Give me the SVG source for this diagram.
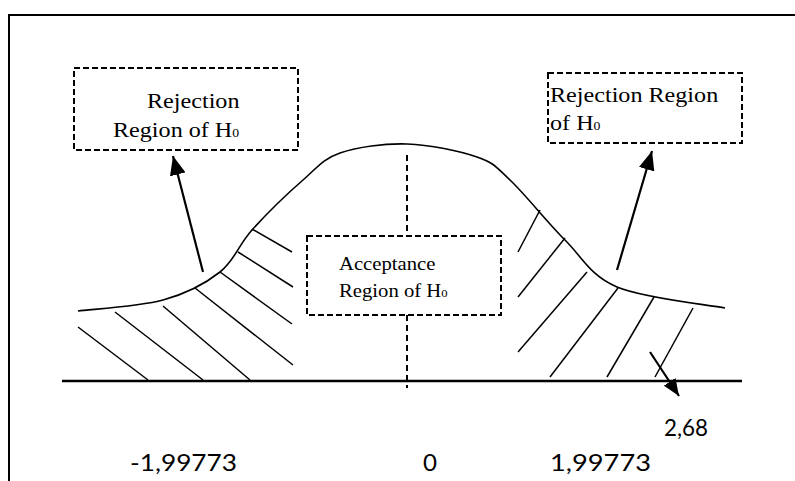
<svg xmlns="http://www.w3.org/2000/svg" width="795" height="481" viewBox="0 0 795 481">
<style>
.frame{fill:none;stroke:#000;stroke-width:2}
.axis{fill:none;stroke:#000;stroke-width:2.5}
.curve{fill:none;stroke:#000;stroke-width:1.6}
.hatch{fill:none;stroke:#000;stroke-width:1.5}
.box{fill:#fff;stroke:#000;stroke-width:2;stroke-dasharray:6,3}
.vdash{fill:none;stroke:#000;stroke-width:2;stroke-dasharray:6,4}
.arrow{fill:none;stroke:#000;stroke-width:2.2}
.serif{font-family:"Liberation Serif","Times New Roman",serif;fill:#000}
.sans{font-family:Lato,"Open Sans",sans-serif;fill:#000}
</style>
<defs>
<marker id="ah" markerUnits="userSpaceOnUse" markerWidth="20" markerHeight="16" refX="19" refY="8" orient="auto">
<path d="M0,0 L19,8 L0,16 z" fill="#000"/>
</marker>
<marker id="ahs" markerUnits="userSpaceOnUse" markerWidth="18" markerHeight="14" refX="17" refY="7" orient="auto">
<path d="M0,0 L17,7 L0,14 z" fill="#000"/>
</marker>
</defs>
<rect width="795" height="481" fill="#fff"/>
<path class="frame" d="M9,481 L9,15 L795,15"/>

<g id="curve">
<path class="curve" d="M78,311 C92.2,309.2 139.3,306.5 163,300 C186.7,293.5 205.2,283.7 220,272 C234.8,260.3 238.2,245.3 252,230 C265.8,214.7 288.3,192.8 303,180 C317.7,167.2 322.7,159 340,153 C357.3,147 384.2,143.3 407,144 C429.8,144.7 459.8,151 477,157 C494.2,163 495.3,166.2 510,180 C524.7,193.8 547.2,222.2 565,240 C582.8,257.8 590.3,275.7 617,287 C643.7,298.3 707,304.5 725,308"/>
</g>

<g id="hatch-left" class="hatch">
<line x1="78" y1="327" x2="148" y2="380"/>
<line x1="115" y1="312" x2="203" y2="380"/>
<line x1="163" y1="306" x2="250" y2="380"/>
<line x1="195" y1="288" x2="293" y2="365"/>
<line x1="220" y1="272" x2="292" y2="324"/>
<line x1="238" y1="252" x2="293" y2="287"/>
<line x1="252" y1="229" x2="292" y2="252"/>
</g>

<g id="hatch-right" class="hatch">
<line x1="540" y1="210" x2="518" y2="252"/>
<line x1="565" y1="238" x2="518" y2="297"/>
<line x1="587" y1="272" x2="518" y2="352"/>
<line x1="618" y1="288" x2="550" y2="377"/>
<line x1="654" y1="297" x2="607" y2="377"/>
<line x1="693" y1="308" x2="655" y2="377"/>
</g>

<g id="axis">
<line class="axis" x1="62" y1="381" x2="742" y2="381"/>
</g>

<g id="connectors">
<line class="vdash" x1="407" y1="155" x2="407" y2="236"/>
<line class="vdash" x1="407" y1="315" x2="407" y2="388"/>
<line class="arrow" x1="203" y1="272" x2="173" y2="156" marker-end="url(#ah)"/>
<line class="arrow" x1="617" y1="270" x2="652" y2="151" marker-end="url(#ah)"/>
<line class="arrow" x1="650" y1="352" x2="679" y2="396" marker-end="url(#ahs)"/>
</g>

<g id="node-left-rejection">
<rect class="box" x="74" y="68" width="224" height="82"/>
<text class="serif" font-size="21" transform="translate(147,108) scale(1.15,1)">Rejection</text>
<text class="serif" font-size="21" transform="translate(113,137) scale(1.15,1)">Region of H<tspan font-size="12">0</tspan></text>
</g>

<g id="node-right-rejection">
<rect class="box" x="548" y="73" width="194" height="70"/>
<text class="serif" font-size="21" transform="translate(550,102) scale(1.15,1)">Rejection Region</text>
<text class="serif" font-size="21" transform="translate(550,130) scale(1.15,1)">of H<tspan font-size="12">0</tspan></text>
</g>

<g id="node-acceptance">
<rect class="box" x="307" y="236" width="194" height="79"/>
<text class="serif" font-size="18" transform="translate(339,270) scale(1.15,1)">Acceptance</text>
<text class="serif" font-size="18" transform="translate(339,297) scale(1.15,1)">Region of H<tspan font-size="11">0</tspan></text>
</g>

<g id="labels">
<text class="sans" font-size="23" x="664" y="436" textLength="44" lengthAdjust="spacingAndGlyphs">2,68</text>
<text class="sans" font-size="24" x="130" y="471" textLength="107" lengthAdjust="spacingAndGlyphs">-1,99773</text>
<text class="sans" font-size="24" x="423" y="471" textLength="14" lengthAdjust="spacingAndGlyphs">0</text>
<text class="sans" font-size="24" x="550" y="471" textLength="101" lengthAdjust="spacingAndGlyphs">1,99773</text>
</g>
</svg>
